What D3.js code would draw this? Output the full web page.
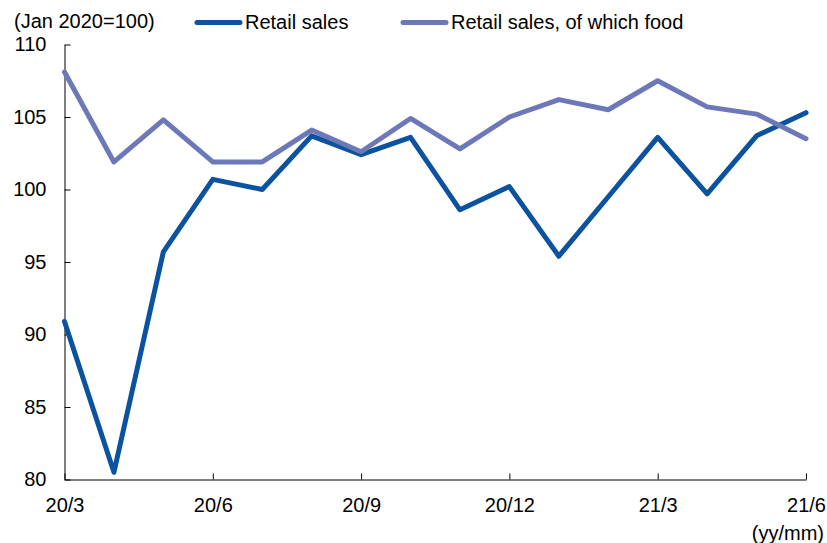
<!DOCTYPE html>
<html>
<head>
<meta charset="utf-8">
<script src="https://cdn.jsdelivr.net/npm/d3@7"></script>
<style>
  html, body { margin: 0; padding: 0; background: #fff; }
  svg { display: block; font-family: "Liberation Sans", Arial, sans-serif; }
</style>
</head>
<body>
<svg id="chart" width="827" height="543"></svg>
<script>
// Monthly index values, Jan 2020 = 100
const months = ["20/3","20/4","20/5","20/6","20/7","20/8","20/9","20/10",
                "20/11","20/12","21/1","21/2","21/3","21/4","21/5","21/6"];
const retailSales = [90.9, 80.5, 95.7, 100.7, 100.0, 103.7, 102.4, 103.6,
                     98.6, 100.2, 95.4, 99.5, 103.6, 99.7, 103.7, 105.3];
const foodSales = [108.1, 101.9, 104.8, 101.9, 101.9, 104.1, 102.6, 104.9,
                   102.8, 105.0, 106.2, 105.5, 107.5, 105.7, 105.2, 103.5];
const xTickLabels = ["20/3","20/6","20/9","20/12","21/3","21/6"];
const yTicks = [80, 85, 90, 95, 100, 105, 110];
const seriesNames = ["Retail sales", "Retail sales, of which food"];

const colors = { retail: "#0B52A0", food: "#6C78B8" };
const svg = d3.select("#chart");

const x = d3.scalePoint().domain(months).range([64.5, 806]);
const y = d3.scaleLinear().domain([80, 110]).range([479.5, 44.5]);

// Axes
const yAxis = d3.axisLeft(y).tickValues(yTicks).tickSize(-6).tickSizeOuter(0).tickPadding(18);
const yG = svg.append("g").attr("transform", "translate(64.5,0)").call(yAxis);
const xAxis = d3.axisBottom(x).tickValues(xTickLabels).tickSize(-6).tickSizeOuter(0).tickPadding(18);
const xG = svg.append("g").attr("transform", "translate(0,479.5)").call(xAxis);

[yG, xG].forEach(g => {
  g.selectAll("path.domain").attr("stroke", "#000").attr("stroke-width", 1);
  g.selectAll(".tick line").attr("stroke", "#000").attr("stroke-width", 1);
  g.selectAll(".tick text").attr("fill", "#000").style("font-size", "20px")
    .style("font-family", "'Liberation Sans', Arial, sans-serif");
});

// Lines
const line = d3.line().x((d, i) => x(months[i])).y(d => y(d));
svg.append("path").datum(retailSales)
  .attr("fill", "none").attr("stroke", colors.retail).attr("stroke-width", 5)
  .attr("stroke-linejoin", "round").attr("stroke-linecap", "round").attr("d", line);
svg.append("path").datum(foodSales)
  .attr("fill", "none").attr("stroke", colors.food).attr("stroke-width", 5)
  .attr("stroke-linejoin", "round").attr("stroke-linecap", "round").attr("d", line);

// Unit label
svg.append("text").attr("x", 14).attr("y", 28).style("font-size", "20px")
  .attr("fill", "#000").text("(Jan 2020=100)");
svg.append("text").attr("x", 824).attr("y", 540).attr("text-anchor", "end")
  .style("font-size", "20px").attr("fill", "#000").text("(yy/mm)");

// Legend
const legend = [
  { name: seriesNames[0], color: colors.retail, x0: 197, x1: 240, tx: 245 },
  { name: seriesNames[1], color: colors.food, x0: 403, x1: 446, tx: 451 }
];
legend.forEach(l => {
  svg.append("line").attr("x1", l.x0).attr("x2", l.x1).attr("y1", 22.5).attr("y2", 22.5)
    .attr("stroke", l.color).attr("stroke-width", 5).attr("stroke-linecap", "round");
  svg.append("text").attr("x", l.tx).attr("y", 29).style("font-size", "20px")
    .attr("fill", "#000").text(l.name);
});
</script>
</body>
</html>
